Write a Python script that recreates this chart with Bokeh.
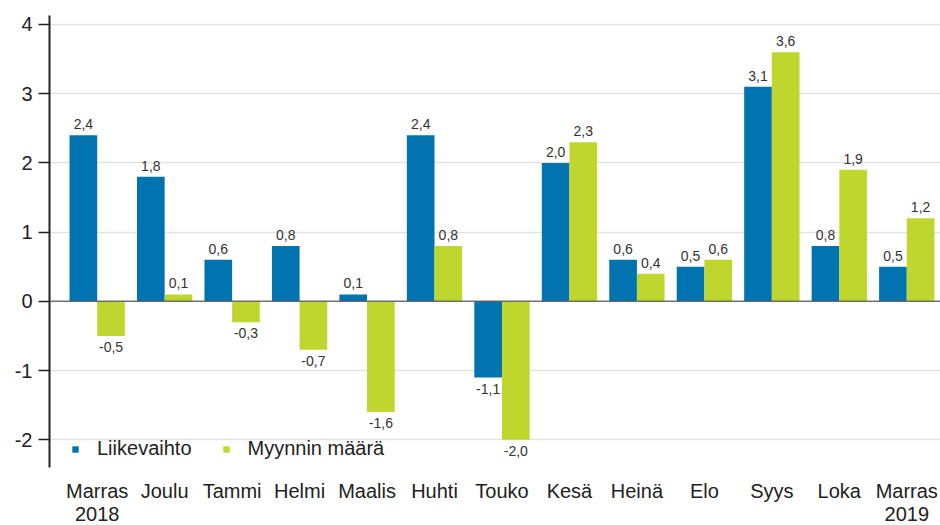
from bokeh.plotting import figure
from bokeh.models import ColumnDataSource, FixedTicker, Span, Legend, LegendItem, Range1d
from bokeh.embed import file_html
from bokeh.resources import INLINE
from bokeh.core.properties import value

categories = ["Marras\n2018", "Joulu", "Tammi", "Helmi", "Maalis", "Huhti", "Touko",
              "Kesä", "Heinä", "Elo", "Syys", "Loka", "Marras\n2019"]
liikevaihto = [2.4, 1.8, 0.6, 0.8, 0.1, 2.4, -1.1, 2.0, 0.6, 0.5, 3.1, 0.8, 0.5]
myynnin_maara = [-0.5, 0.1, -0.3, -0.7, -1.6, 0.8, -2.0, 2.3, 0.4, 0.6, 3.6, 1.9, 1.2]
y_ticks = [-2, -1, 0, 1, 2, 3, 4]

BLUE = "#0073B0"
GREEN = "#BFD62F"
FONT = "Liberation Sans"

xs = list(range(len(categories)))
off = 0.205
bw = 0.41

def fmt(v):
    return ("%.1f" % v).replace(".", ",")

def make_src(vals, sign):
    return ColumnDataSource(dict(
        x=[x + sign * off for x in xs], top=vals,
        lab=[fmt(v) for v in vals], ly=vals,
        base=["bottom" if v >= 0 else "top" for v in vals],
        yo=[-6 if v >= 0 else 6 for v in vals],
    ))

src_a = make_src(liikevaihto, -1)
src_b = make_src(myynnin_maara, 1)

p = figure(frame_width=891, frame_height=452, output_backend="svg", toolbar_location=None,
           x_range=Range1d(-0.707, 12.5), y_range=Range1d(-2.4, 4.13),
           min_border_left=49, min_border_right=0, min_border_top=15, min_border_bottom=0)
p.outline_line_color = None
p.background_fill_color = "white"

ra = p.vbar(x="x", top="top", bottom=0, width=bw, source=src_a, fill_color=BLUE, line_color=None)
rb = p.vbar(x="x", top="top", bottom=0, width=bw, source=src_b, fill_color=GREEN, line_color=None)

for s in (src_a, src_b):
    p.text(x="x", y="ly", text="lab", source=s, text_align="center",
           text_baseline="base", y_offset="yo", text_font=value(FONT),
           text_font_size="14px", text_color="#333333")

zero = Span(location=0, dimension="width", line_color="#555555", line_width=1.5,
            line_alpha=0.8, level="overlay")
p.add_layout(zero)

p.xgrid.grid_line_color = None
p.ygrid.grid_line_color = "#e3e3e3"
p.ygrid.grid_line_width = 1.5
p.ygrid.ticker = FixedTicker(ticks=y_ticks)

p.yaxis.ticker = FixedTicker(ticks=y_ticks)
p.yaxis.major_label_overrides = {t: str(t) for t in y_ticks}
p.yaxis.axis_line_color = "#222222"
p.yaxis.axis_line_width = 2
p.yaxis.major_tick_line_color = "#222222"
p.yaxis.major_tick_line_width = 1.5
p.yaxis.major_tick_out = 11
p.yaxis.major_tick_in = 0
p.yaxis.minor_tick_line_color = None
p.yaxis.major_label_text_font = FONT
p.yaxis.major_label_text_font_size = "20px"
p.yaxis.major_label_text_color = "#222222"
p.yaxis.major_label_standoff = 6

p.xaxis.ticker = FixedTicker(ticks=xs)
p.xaxis.major_label_overrides = {i: c for i, c in enumerate(categories)}
p.xaxis.axis_line_color = None
p.xaxis.major_tick_line_color = None
p.xaxis.minor_tick_line_color = None
p.xaxis.major_label_text_font = FONT
p.xaxis.major_label_text_font_size = "20px"
p.xaxis.major_label_text_line_height = 1.05
p.xaxis.major_label_text_color = "#222222"
p.xaxis.major_label_standoff = 12
p.xaxis.major_tick_out = 0
p.xaxis.major_tick_in = 0

legend = Legend(items=[LegendItem(label="Liikevaihto", renderers=[ra]),
                       LegendItem(label="Myynnin määrä", renderers=[rb])],
                orientation="horizontal", location=(22, 7),
                border_line_color=None, background_fill_alpha=0,
                glyph_width=8, glyph_height=8, label_text_font=FONT,
                label_text_font_size="20px", label_text_color="#222222",
                spacing=30, padding=4, label_standoff=18)
p.add_layout(legend)

open("out.html", "w").write(file_html(p, INLINE))
